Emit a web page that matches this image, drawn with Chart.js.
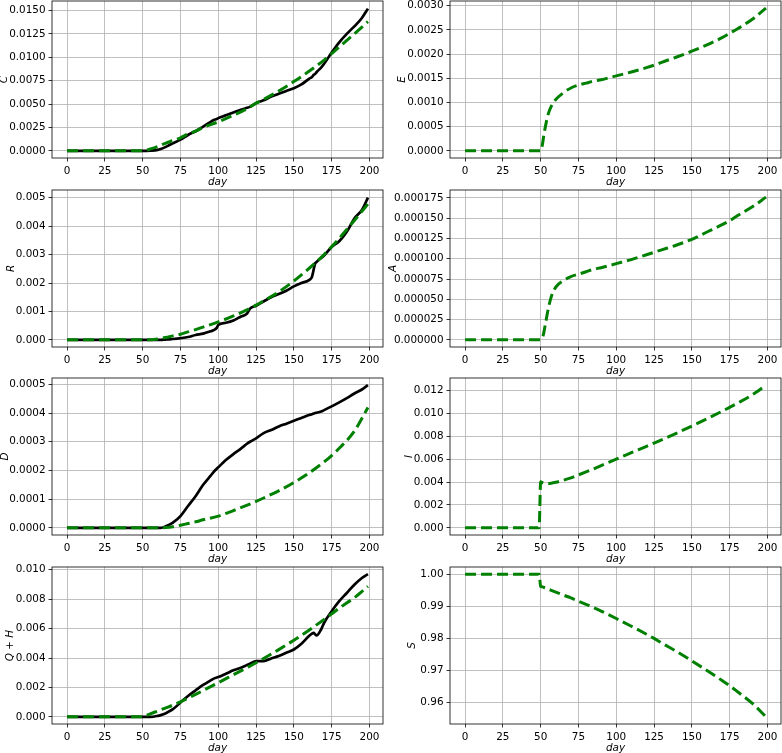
<!DOCTYPE html>
<html>
<head>
<meta charset="utf-8">
<script src="https://cdn.jsdelivr.net/npm/chart.js@4.4.0/dist/chart.umd.min.js"></script>
<style>
  html, body { margin: 0; padding: 0; background: #fff; overflow: hidden; }
  body { width: 782px; height: 753px; position: relative; }
  canvas { position: absolute; }
</style>
</head>
<body>
<canvas id="pC"></canvas>
<canvas id="pE"></canvas>
<canvas id="pR"></canvas>
<canvas id="pA"></canvas>
<canvas id="pD"></canvas>
<canvas id="pI"></canvas>
<canvas id="pQH"></canvas>
<canvas id="pS"></canvas>
<script>
// jours des courbes modèle (vert) et des observations (noir)
const modelDays = [0, 10, 20, 30, 40, 49, 50, 51, 52, 53, 55, 57, 60, 65, 70, 75, 80, 85, 90, 100,
  110, 120, 125, 130, 140, 150, 160, 170, 175, 180, 190, 199];
const obsDays = [0, 10, 20, 30, 40, 50, 55, 60, 62, 65, 68, 70, 75, 80, 85, 90, 95, 97, 99, 100,
  105, 110, 115, 119, 121, 125, 130, 135, 140, 145, 150, 155, 160, 162, 163, 164, 165, 168, 170, 175,
  180, 185, 190, 195, 199];

// modèle
const cModel = [0, 0, 0, 0, 0, 0, 0, 0.00003, 0.00007, 0.0001, 0.0002, 0.0003, 0.00048, 0.0008, 0.0011,
  0.0014, 0.0018, 0.0021, 0.0025, 0.0031, 0.0038, 0.0046, 0.0051, 0.0055, 0.0064, 0.0074, 0.0085, 0.0097,
  0.0104, 0.0111, 0.0125, 0.0138];
const eModel = [0, 0, 0, 0, 0, 0, 0, 0.0001, 0.0003, 0.00048, 0.00076, 0.00092, 0.00106, 0.0012, 0.0013,
  0.00136, 0.0014, 0.00144, 0.00147, 0.00155, 0.00163, 0.00172, 0.00177, 0.00183, 0.00194, 0.00206, 0.00219,
  0.00234, 0.00243, 0.00252, 0.00272, 0.00295];
const rModel = [0, 0, 0, 0, 0, 0, 0, 0, 0, 0, 0, 0.00001, 0.00003, 0.00008, 0.00014, 0.0002, 0.00028,
  0.00036, 0.00045, 0.00063, 0.00084, 0.00108, 0.00122, 0.00137, 0.00169, 0.00207, 0.00251, 0.003, 0.00328,
  0.00357, 0.0042, 0.00478];
const aModel = [0, 0, 0, 0, 0, 0, 0, 0.000002, 0.000008, 0.000018, 0.000038, 0.000053, 0.000065, 0.000073,
  0.000078, 0.000081, 0.000084, 0.000087, 0.000089, 0.000094, 0.000099, 0.000105, 0.000108, 0.000111,
  0.000117, 0.000124, 0.000133, 0.000142, 0.000147, 0.000153, 0.000164, 0.000176];
const dModel = [0, 0, 0, 0, 0, 0, 0, 0, 0, 0, 0, 0, 0.0000002, 0.000001, 0.0000035, 0.000009, 0.000015,
  0.000021, 0.000028, 0.000041, 0.00006, 0.000081, 0.000092, 0.000104, 0.000129, 0.000158, 0.000191,
  0.00023, 0.000252, 0.000277, 0.000337, 0.000419];
const iModel = [0, 0, 0, 0, 0, 0, 0.00402, 0.00396, 0.00392, 0.0039, 0.00388, 0.0039, 0.00398, 0.00416,
  0.00437, 0.00462, 0.00488, 0.00515, 0.00543, 0.006, 0.00656, 0.00712, 0.0074, 0.00769, 0.00828, 0.00889,
  0.00952, 0.01018, 0.01052, 0.01087, 0.01162, 0.01246];
const qhModel = [0, 0, 0, 0, 0, 0, 0, 0.00004, 0.00008, 0.00012, 0.0002, 0.00028, 0.0004, 0.0006, 0.0008,
  0.00102, 0.00127, 0.00153, 0.00179, 0.00232, 0.00286, 0.0034, 0.00368, 0.00397, 0.00457, 0.00521,
  0.00589, 0.00662, 0.007, 0.00739, 0.0081, 0.00887];
const sModel = [1, 1, 1, 1, 1, 1, 0.9962, 0.99605, 0.9959, 0.99575, 0.9953, 0.99495, 0.9944, 0.9935,
  0.9926, 0.9916, 0.9906, 0.9896, 0.9885, 0.9862, 0.9838, 0.9813, 0.98, 0.9786, 0.9759, 0.973, 0.97,
  0.9669, 0.9653, 0.9635, 0.9598, 0.9556];

// observations
const cObs = [0, 0, 0, 0, 0, 0, 0.00002, 0.0001, 0.0002, 0.0004, 0.00065, 0.0008, 0.0012, 0.0017, 0.0021,
  0.0026, 0.0031, 0.0033, 0.0034, 0.0035, 0.0038, 0.0041, 0.0044, 0.0046, 0.0047, 0.0051, 0.0054, 0.0058,
  0.0061, 0.0064, 0.0067, 0.0071, 0.0077, 0.0079, 0.0081, 0.0082, 0.0084, 0.0089, 0.0093, 0.0105, 0.0116,
  0.0125, 0.0133, 0.0142, 0.0152];
const rObs = [0, 0, 0, 0, 0, 0, 0, 0, 0, 0.00001, 0.00002, 0.00003, 0.00006, 0.0001, 0.00017, 0.00022,
  0.0003, 0.00034, 0.00042, 0.00052, 0.0006, 0.00068, 0.00082, 0.00092, 0.0011, 0.0012, 0.00135, 0.0015,
  0.00161, 0.00173, 0.00188, 0.002, 0.0021, 0.00222, 0.00245, 0.00268, 0.00274, 0.00288, 0.00297, 0.00327,
  0.00347, 0.0038, 0.00427, 0.00457, 0.005];
const dObs = [0, 0, 0, 0, 0, 0, 0, 0, 0, 0.000005, 0.000012, 0.000018, 0.000041, 0.000076, 0.00011,
  0.00015, 0.000182, 0.000195, 0.000206, 0.000211, 0.000236, 0.000257, 0.000276, 0.000293, 0.0003, 0.000312,
  0.00033, 0.000341, 0.000353, 0.000363, 0.000373, 0.000383, 0.000393, 0.000396, 0.000398, 0.0004,
  0.000401, 0.000405, 0.00041, 0.000423, 0.000437, 0.000452, 0.000468, 0.000482, 0.000497];
const qhObs = [0, 0, 0, 0, 0, 0, 0, 0.00007, 0.00012, 0.00023, 0.0004, 0.00052, 0.00097, 0.00142, 0.0018,
  0.00217, 0.00248, 0.0026, 0.00268, 0.00271, 0.00293, 0.00316, 0.00334, 0.00352, 0.00361, 0.00379,
  0.00379, 0.00397, 0.00413, 0.00436, 0.00458, 0.00497, 0.00549, 0.00565, 0.00571, 0.00562, 0.00553,
  0.00594, 0.00639, 0.00718, 0.00786, 0.00842, 0.00898, 0.00944, 0.0097];

// graduations
const dayTicks = ['0', '25', '50', '75', '100', '125', '150', '175', '200'];
const cTicks = ['0.0000', '0.0025', '0.0050', '0.0075', '0.0100', '0.0125', '0.0150'];
const eTicks = ['0.0000', '0.0005', '0.0010', '0.0015', '0.0020', '0.0025', '0.0030'];
const rTicks = ['0.000', '0.001', '0.002', '0.003', '0.004', '0.005'];
const aTicks = ['0.000000', '0.000025', '0.000050', '0.000075', '0.000100', '0.000125', '0.000150', '0.000175'];
const dTicks = ['0.0000', '0.0001', '0.0002', '0.0003', '0.0004', '0.0005'];
const iTicks = ['0.000', '0.002', '0.004', '0.006', '0.008', '0.010', '0.012'];
const qhTicks = ['0.000', '0.002', '0.004', '0.006', '0.008', '0.010'];
const sTicks = ['0.96', '0.97', '0.98', '0.99', '1.00'];

const panels = [
  { id: 'pC', label: 'C', row: 0, col: 0, model: cModel, obs: cObs, ticks: cTicks, min: -0.000763, max: 0.016013, titlePad: 4.8 },
  { id: 'pE', label: 'E', row: 0, col: 1, model: eModel, obs: null, ticks: eTicks, min: -0.0001475, max: 0.0030975, titlePad: 12.5 },
  { id: 'pR', label: 'R', row: 1, col: 0, model: rModel, obs: rObs, ticks: rTicks, min: -0.000251, max: 0.005271, titlePad: 11.8 },
  { id: 'pA', label: 'A', row: 1, col: 1, model: aModel, obs: null, ticks: aTicks, min: -0.0000088, max: 0.0001848, titlePad: 2.8 },
  { id: 'pD', label: 'D', row: 2, col: 0, model: dModel, obs: dObs, ticks: dTicks, min: -0.0000249, max: 0.000522, titlePad: 5.8 },
  { id: 'pI', label: 'I', row: 2, col: 1, model: iModel, obs: null, ticks: iTicks, min: -0.000623, max: 0.013083, titlePad: 18.8 },
  { id: 'pQH', label: 'Q + H', row: 3, col: 0, model: qhModel, obs: qhObs, ticks: qhTicks, min: -0.000485, max: 0.010185, titlePad: 11.3 },
  { id: 'pS', label: 'S', row: 3, col: 1, model: sModel, obs: null, ticks: sTicks, min: 0.95338, max: 1.00222, titlePad: 22.5 }
];

const tickFont = { family: 'DejaVu Sans', size: 10.4 };
const titleFont = { family: 'DejaVu Sans', size: 10.4, style: 'italic', lineHeight: 1 };
const rowTops = [1, 190, 378, 567];

// cadre autour de la zone de tracé
const cadre = {
  id: 'cadre',
  afterDatasetsDraw(chart) {
    const { ctx, chartArea: a } = chart;
    ctx.save();
    ctx.strokeStyle = '#000';
    ctx.lineWidth = 0.8;
    ctx.strokeRect(a.left, a.top, a.right - a.left, a.bottom - a.top);
    ctx.restore();
  }
};

function pts(days, vals) {
  return days.map((d, i) => ({ x: d, y: vals[i] }));
}

function grid() {
  return { color: '#b0b0b0', lineWidth: 0.8, tickColor: '#000', tickWidth: 0.8, tickLength: 3.5 };
}

panels.forEach(p => {
  const canvas = document.getElementById(p.id);
  canvas.width = 397;
  canvas.height = 194;
  canvas.style.left = (p.col === 0 ? -6 : 385) + 'px';
  canvas.style.top = (rowTops[p.row] - 8) + 'px';
  const axisW = p.col === 0 ? 58 : 65;

  const datasets = [{
    data: pts(modelDays, p.model),
    borderColor: '#008000',
    borderWidth: 3,
    borderDash: [11, 5],
    borderCapStyle: 'butt',
    pointRadius: 0,
    fill: false,
    cubicInterpolationMode: 'monotone'
  }];
  if (p.obs) {
    datasets.push({
      data: pts(obsDays, p.obs),
      borderColor: '#000',
      borderWidth: 2.7,
      pointRadius: 0,
      fill: false,
      cubicInterpolationMode: 'monotone'
    });
  }

  new Chart(canvas, {
    type: 'line',
    data: { datasets },
    plugins: [cadre],
    options: {
      responsive: false,
      animation: false,
      events: [],
      layout: { padding: { top: 8, left: 0, bottom: 0, right: p.col === 0 ? 8 : 1 } },
      plugins: { legend: { display: false }, tooltip: { enabled: false } },
      scales: {
        x: {
          type: 'linear',
          min: -9.95,
          max: 208.95,
          grid: grid(),
          border: { display: false },
          afterBuildTicks: s => { s.ticks = dayTicks.map(t => ({ value: parseFloat(t) })); },
          afterFit: s => { s.height = 29; s.paddingLeft = 0; s.paddingRight = 0; },
          ticks: { font: tickFont, color: '#000', padding: 4, maxRotation: 0, callback: (v, i) => dayTicks[i] },
          title: { display: true, text: 'day', font: titleFont, color: '#000', padding: { top: 0, bottom: 0 } }
        },
        y: {
          min: p.min,
          max: p.max,
          grid: grid(),
          border: { display: false },
          afterBuildTicks: s => { s.ticks = p.ticks.map(t => ({ value: parseFloat(t) })); },
          afterFit: s => { s.width = axisW; s.paddingTop = 0; s.paddingBottom = 0; },
          ticks: { font: tickFont, color: '#000', padding: 3, callback: (v, i) => p.ticks[i] },
          title: { display: true, text: p.label, font: titleFont, color: '#000', padding: { top: p.titlePad, bottom: 0 } }
        }
      }
    }
  });
});
</script>
</body>
</html>
